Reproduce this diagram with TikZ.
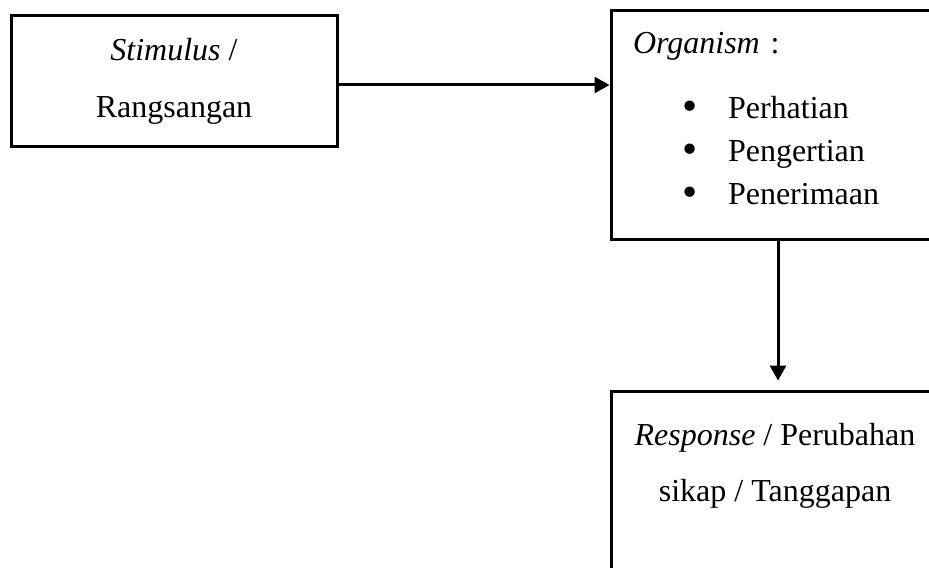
\documentclass[tikz,border=0pt]{standalone}
\usepackage{fontspec}
\setmainfont{Liberation Serif}
\usetikzlibrary{positioning,arrows.meta}

\newcommand{\orgitem}[1]{\hspace*{24.5pt}\makebox[23pt][l]{\raisebox{-1.2pt}{\scalebox{1.35}{\textbullet}}}#1}

\begin{document}
\begin{tikzpicture}[x=0.5pt,y=-0.5pt,
        box/.style={draw,line width=1.5pt,inner sep=0pt,font=\fontsize{16}{28.5}\selectfont},
        flow/.style={line width=1.5pt,-{Triangle[length=7.5pt,width=8pt]}}]
        \path[use as bounding box,clip] (0,0) rectangle (929,567);

        \node (stim) [box,minimum width=163pt,minimum height=65pt,align=center] at (174,81)
            {\textit{Stimulus} /\\ Rangsangan\rule[-2pt]{0pt}{0pt}};
        \node (org) [box,minimum width=164pt,minimum height=114pt,inner xsep=11pt,
            text width=142pt,align=left,font=\fontsize{16}{21.5}\selectfont] at (775,125)
            {\textit{Organism} :\\[11pt]
             \orgitem{Perhatian}\\ \orgitem{Pengertian}\\ \orgitem{Penerimaan}\rule[-7pt]{0pt}{0pt}};
        \node (resp) [box,minimum width=164pt,minimum height=114pt,align=center,
            font=\fontsize{16}{28}\selectfont,below=74.5pt of org]
            {\textit{Response} / Perubahan\\ sikap / Tanggapan\rule[-43pt]{0pt}{0pt}};

        \coordinate (a1) at ([yshift=-2pt]stim.east);
        \coordinate (a2) at ([xshift=1.5pt]org.south);

        \path[flow]
            (a1) edge (a1 -| org.west)
            (a2) edge[shorten >=4.5pt] (a2 |- resp.north)
        ;
    \end{tikzpicture}
\end{document}
